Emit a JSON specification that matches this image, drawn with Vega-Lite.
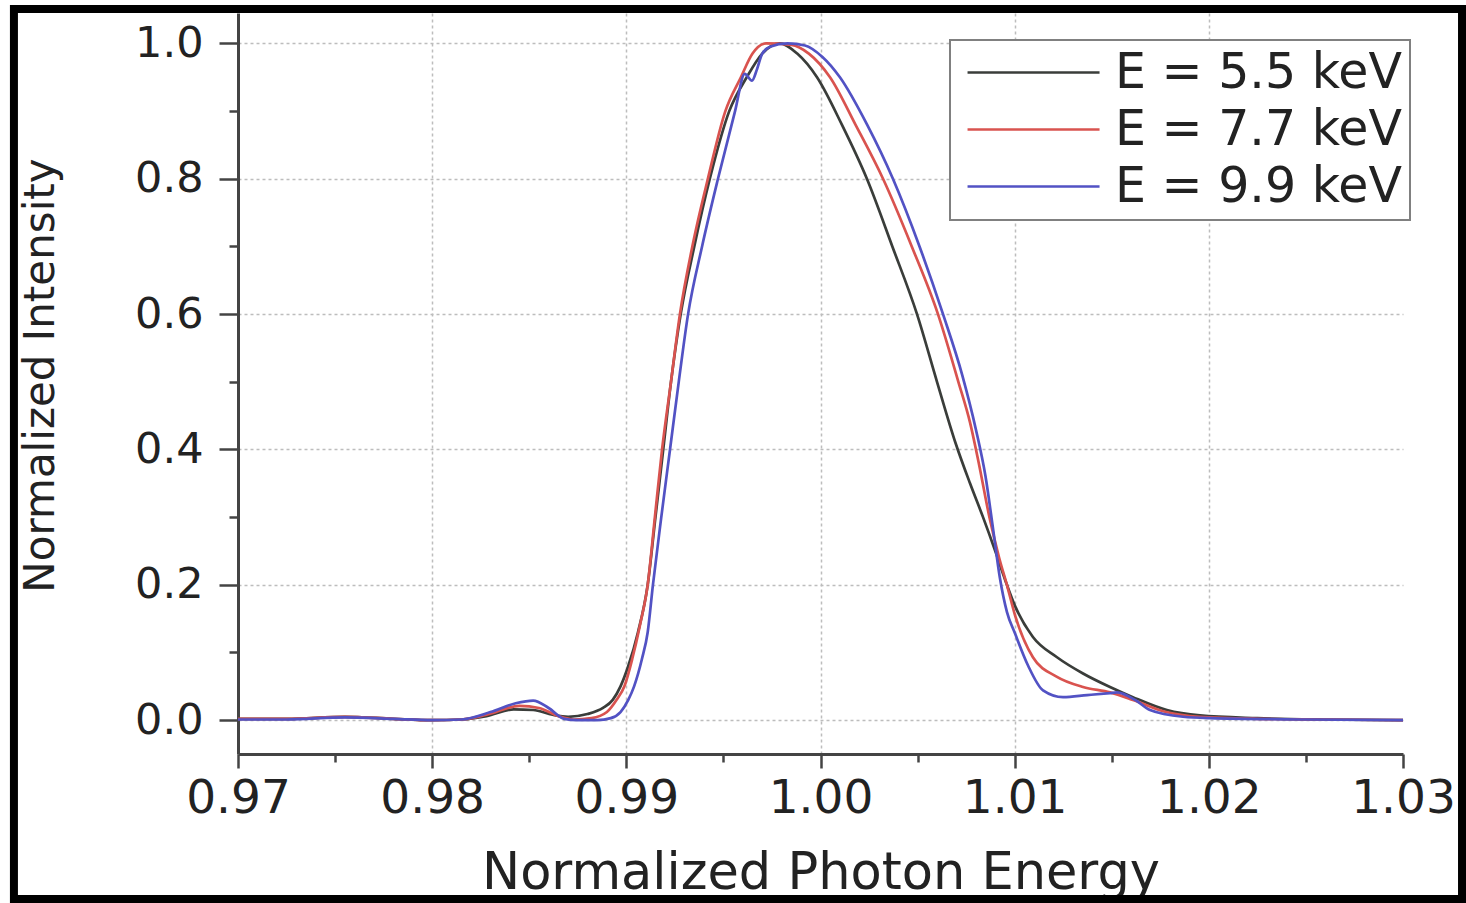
{
"$schema": "https://vega.github.io/schema/vega-lite/v6.json",
"width": 1165, "height": 741,
"autosize": {"type": "none"},
"padding": {"left": 238, "top": 13, "right": 63, "bottom": 149},
"background": "white",
"config": {"view": {"stroke": null}, "font": "DejaVu Sans", "legend": {"strokeWidth": 2}},
"datasets": {
"curves": [
{"s":"E = 5.5 keV","e":0.970,"i":0.002},{"s":"E = 5.5 keV","e":0.9725,"i":0.002},{"s":"E = 5.5 keV","e":0.9755,"i":0.005},{"s":"E = 5.5 keV","e":0.978,"i":0.002},{"s":"E = 5.5 keV","e":0.980,"i":0.0},{"s":"E = 5.5 keV","e":0.9815,"i":0.001},{"s":"E = 5.5 keV","e":0.9828,"i":0.006},{"s":"E = 5.5 keV","e":0.9842,"i":0.016},{"s":"E = 5.5 keV","e":0.9852,"i":0.015},{"s":"E = 5.5 keV","e":0.9862,"i":0.008},{"s":"E = 5.5 keV","e":0.9870,"i":0.005},{"s":"E = 5.5 keV","e":0.9880,"i":0.009},{"s":"E = 5.5 keV","e":0.9888,"i":0.018},{"s":"E = 5.5 keV","e":0.9893,"i":0.03},{"s":"E = 5.5 keV","e":0.9897,"i":0.05},{"s":"E = 5.5 keV","e":0.9901,"i":0.08},{"s":"E = 5.5 keV","e":0.9906,"i":0.13},{"s":"E = 5.5 keV","e":0.9911,"i":0.20},{"s":"E = 5.5 keV","e":0.9915,"i":0.30},{"s":"E = 5.5 keV","e":0.9919,"i":0.40},{"s":"E = 5.5 keV","e":0.9923,"i":0.50},{"s":"E = 5.5 keV","e":0.9928,"i":0.60},{"s":"E = 5.5 keV","e":0.9935,"i":0.70},{"s":"E = 5.5 keV","e":0.9943,"i":0.80},{"s":"E = 5.5 keV","e":0.9953,"i":0.90},{"s":"E = 5.5 keV","e":0.9962,"i":0.95},{"s":"E = 5.5 keV","e":0.9970,"i":0.985},{"s":"E = 5.5 keV","e":0.9979,"i":1.0},{"s":"E = 5.5 keV","e":0.9988,"i":0.985},{"s":"E = 5.5 keV","e":0.99982,"i":0.95},{"s":"E = 5.5 keV","e":1.0011,"i":0.88},{"s":"E = 5.5 keV","e":1.00239,"i":0.80},{"s":"E = 5.5 keV","e":1.0037,"i":0.70},{"s":"E = 5.5 keV","e":1.00497,"i":0.60},{"s":"E = 5.5 keV","e":1.0060,"i":0.50},{"s":"E = 5.5 keV","e":1.00695,"i":0.41},{"s":"E = 5.5 keV","e":1.0077,"i":0.35},{"s":"E = 5.5 keV","e":1.00837,"i":0.30},{"s":"E = 5.5 keV","e":1.0090,"i":0.25},{"s":"E = 5.5 keV","e":1.0096,"i":0.20},{"s":"E = 5.5 keV","e":1.0100,"i":0.17},{"s":"E = 5.5 keV","e":1.01094,"i":0.123},{"s":"E = 5.5 keV","e":1.01218,"i":0.093},{"s":"E = 5.5 keV","e":1.01352,"i":0.069},{"s":"E = 5.5 keV","e":1.01491,"i":0.049},{"s":"E = 5.5 keV","e":1.01609,"i":0.034},{"s":"E = 5.5 keV","e":1.01784,"i":0.015},{"s":"E = 5.5 keV","e":1.01954,"i":0.007},{"s":"E = 5.5 keV","e":1.0225,"i":0.003},{"s":"E = 5.5 keV","e":1.026,"i":0.001},{"s":"E = 5.5 keV","e":1.030,"i":0.0},
{"s":"E = 7.7 keV","e":0.970,"i":0.002},{"s":"E = 7.7 keV","e":0.9725,"i":0.002},{"s":"E = 7.7 keV","e":0.9755,"i":0.005},{"s":"E = 7.7 keV","e":0.978,"i":0.002},{"s":"E = 7.7 keV","e":0.980,"i":0.0},{"s":"E = 7.7 keV","e":0.9815,"i":0.001},{"s":"E = 7.7 keV","e":0.9828,"i":0.008},{"s":"E = 7.7 keV","e":0.9845,"i":0.021},{"s":"E = 7.7 keV","e":0.9855,"i":0.018},{"s":"E = 7.7 keV","e":0.9865,"i":0.006},{"s":"E = 7.7 keV","e":0.9873,"i":0.001},{"s":"E = 7.7 keV","e":0.9882,"i":0.003},{"s":"E = 7.7 keV","e":0.9890,"i":0.012},{"s":"E = 7.7 keV","e":0.9895,"i":0.03},{"s":"E = 7.7 keV","e":0.9899,"i":0.05},{"s":"E = 7.7 keV","e":0.9903,"i":0.09},{"s":"E = 7.7 keV","e":0.9907,"i":0.14},{"s":"E = 7.7 keV","e":0.9911,"i":0.20},{"s":"E = 7.7 keV","e":0.99147,"i":0.30},{"s":"E = 7.7 keV","e":0.99184,"i":0.40},{"s":"E = 7.7 keV","e":0.9923,"i":0.50},{"s":"E = 7.7 keV","e":0.99276,"i":0.60},{"s":"E = 7.7 keV","e":0.9934,"i":0.70},{"s":"E = 7.7 keV","e":0.9942,"i":0.80},{"s":"E = 7.7 keV","e":0.9951,"i":0.90},{"s":"E = 7.7 keV","e":0.9959,"i":0.95},{"s":"E = 7.7 keV","e":0.9965,"i":0.985},{"s":"E = 7.7 keV","e":0.9972,"i":1.0},{"s":"E = 7.7 keV","e":0.9985,"i":0.998},{"s":"E = 7.7 keV","e":0.9994,"i":0.985},{"s":"E = 7.7 keV","e":1.00049,"i":0.95},{"s":"E = 7.7 keV","e":1.0018,"i":0.88},{"s":"E = 7.7 keV","e":1.00322,"i":0.80},{"s":"E = 7.7 keV","e":1.0047,"i":0.70},{"s":"E = 7.7 keV","e":1.00605,"i":0.60},{"s":"E = 7.7 keV","e":1.0071,"i":0.50},{"s":"E = 7.7 keV","e":1.0077,"i":0.44},{"s":"E = 7.7 keV","e":1.00815,"i":0.38},{"s":"E = 7.7 keV","e":1.0087,"i":0.30},{"s":"E = 7.7 keV","e":1.0092,"i":0.24},{"s":"E = 7.7 keV","e":1.0096,"i":0.20},{"s":"E = 7.7 keV","e":1.01002,"i":0.155},{"s":"E = 7.7 keV","e":1.01094,"i":0.093},{"s":"E = 7.7 keV","e":1.01218,"i":0.064},{"s":"E = 7.7 keV","e":1.01352,"i":0.049},{"s":"E = 7.7 keV","e":1.01491,"i":0.041},{"s":"E = 7.7 keV","e":1.01609,"i":0.030},{"s":"E = 7.7 keV","e":1.0178,"i":0.012},{"s":"E = 7.7 keV","e":1.0195,"i":0.005},{"s":"E = 7.7 keV","e":1.0225,"i":0.002},{"s":"E = 7.7 keV","e":1.026,"i":0.001},{"s":"E = 7.7 keV","e":1.030,"i":0.0},
{"s":"E = 9.9 keV","e":0.970,"i":0.001},{"s":"E = 9.9 keV","e":0.9725,"i":0.001},{"s":"E = 9.9 keV","e":0.9755,"i":0.004},{"s":"E = 9.9 keV","e":0.978,"i":0.002},{"s":"E = 9.9 keV","e":0.980,"i":0.0},{"s":"E = 9.9 keV","e":0.9815,"i":0.001},{"s":"E = 9.9 keV","e":0.9830,"i":0.012},{"s":"E = 9.9 keV","e":0.9843,"i":0.025},{"s":"E = 9.9 keV","e":0.9852,"i":0.029},{"s":"E = 9.9 keV","e":0.9860,"i":0.018},{"s":"E = 9.9 keV","e":0.9868,"i":0.002},{"s":"E = 9.9 keV","e":0.9875,"i":0.0},{"s":"E = 9.9 keV","e":0.9885,"i":0.0},{"s":"E = 9.9 keV","e":0.9892,"i":0.003},{"s":"E = 9.9 keV","e":0.9897,"i":0.012},{"s":"E = 9.9 keV","e":0.9901,"i":0.03},{"s":"E = 9.9 keV","e":0.9904,"i":0.05},{"s":"E = 9.9 keV","e":0.9908,"i":0.09},{"s":"E = 9.9 keV","e":0.9911,"i":0.13},{"s":"E = 9.9 keV","e":0.99137,"i":0.20},{"s":"E = 9.9 keV","e":0.9918,"i":0.30},{"s":"E = 9.9 keV","e":0.99225,"i":0.40},{"s":"E = 9.9 keV","e":0.9927,"i":0.50},{"s":"E = 9.9 keV","e":0.99318,"i":0.60},{"s":"E = 9.9 keV","e":0.9939,"i":0.70},{"s":"E = 9.9 keV","e":0.99472,"i":0.80},{"s":"E = 9.9 keV","e":0.9956,"i":0.90},{"s":"E = 9.9 keV","e":0.9961,"i":0.955},{"s":"E = 9.9 keV","e":0.99647,"i":0.945},{"s":"E = 9.9 keV","e":0.99673,"i":0.962},{"s":"E = 9.9 keV","e":0.9970,"i":0.985},{"s":"E = 9.9 keV","e":0.9974,"i":0.995},{"s":"E = 9.9 keV","e":0.9983,"i":1.0},{"s":"E = 9.9 keV","e":0.9992,"i":0.997},{"s":"E = 9.9 keV","e":1.0001,"i":0.98},{"s":"E = 9.9 keV","e":1.0010,"i":0.95},{"s":"E = 9.9 keV","e":1.0024,"i":0.88},{"s":"E = 9.9 keV","e":1.00373,"i":0.80},{"s":"E = 9.9 keV","e":1.0051,"i":0.70},{"s":"E = 9.9 keV","e":1.00631,"i":0.60},{"s":"E = 9.9 keV","e":1.0073,"i":0.51},{"s":"E = 9.9 keV","e":1.0080,"i":0.43},{"s":"E = 9.9 keV","e":1.0085,"i":0.36},{"s":"E = 9.9 keV","e":1.0089,"i":0.28},{"s":"E = 9.9 keV","e":1.00924,"i":0.21},{"s":"E = 9.9 keV","e":1.0096,"i":0.16},{"s":"E = 9.9 keV","e":1.01002,"i":0.128},{"s":"E = 9.9 keV","e":1.0107,"i":0.08},{"s":"E = 9.9 keV","e":1.01146,"i":0.044},{"s":"E = 9.9 keV","e":1.01249,"i":0.034},{"s":"E = 9.9 keV","e":1.01373,"i":0.037},{"s":"E = 9.9 keV","e":1.01491,"i":0.040},{"s":"E = 9.9 keV","e":1.01527,"i":0.041},{"s":"E = 9.9 keV","e":1.0162,"i":0.030},{"s":"E = 9.9 keV","e":1.01697,"i":0.015},{"s":"E = 9.9 keV","e":1.01867,"i":0.005},{"s":"E = 9.9 keV","e":1.02006,"i":0.003},{"s":"E = 9.9 keV","e":1.025,"i":0.001},{"s":"E = 9.9 keV","e":1.030,"i":0.0}
]
},
"layer": [
{
"data": {"name": "curves"},
"mark": {"type": "line", "strokeWidth": 2.7, "interpolate": "monotone", "clip": true},
"encoding": {
"x": {"field": "e", "type": "quantitative",
 "scale": {"domain": [0.97, 1.03], "nice": false, "zero": false},
 "axis": {
  "values": [0.97,0.975,0.98,0.985,0.99,0.995,1.0,1.005,1.01,1.015,1.02,1.025,1.03],
  "labelExpr": "round(datum.value*200)%2==0 ? format(datum.value,'.2f') : ''",
  "title": "Normalized Photon Energy",
  "titleFontSize": 51, "titleFontWeight": "normal", "titleColor": "#222", "titlePadding": 27,
  "labelFontSize": 47, "labelColor": "#222", "labelPadding": 7, "labelFlush": false, "labelOverlap": false, "labelBound": false,
  "tickSize": {"condition": {"test": "round(datum.value*200)%2==0", "value": 14}, "value": 8},
  "tickWidth": 2.5, "tickColor": "#444",
  "domainColor": "#444", "domainWidth": 3,
  "grid": true, "gridColor": "#bdbdbd", "gridDash": [3, 3], "gridWidth": 1.5,
  "gridOpacity": {"condition": {"test": "round(datum.value*200)%2==0 && datum.value > 0.975 && datum.value < 1.025", "value": 1}, "value": 0}
 }},
"y": {"field": "i", "type": "quantitative",
 "scale": {"domain": [-0.05, 1.045], "nice": false, "zero": false},
 "axis": {
  "values": [0,0.1,0.2,0.3,0.4,0.5,0.6,0.7,0.8,0.9,1.0],
  "labelExpr": "round(datum.value*10)%2==0 ? format(datum.value,'.1f') : ''",
  "title": "Normalized Intensity",
  "titleFontSize": 42, "titleFontWeight": "normal", "titleColor": "#222", "titlePadding": 72, "titleY": 362,
  "labelFontSize": 43, "labelColor": "#222", "labelPadding": 16, "labelFlush": false, "labelOverlap": false, "labelBound": false,
  "tickSize": {"condition": {"test": "round(datum.value*10)%2==0", "value": 19}, "value": 9},
  "tickWidth": 2.5, "tickColor": "#444",
  "domainColor": "#444", "domainWidth": 3,
  "grid": true, "gridColor": "#bdbdbd", "gridDash": [3, 3], "gridWidth": 1.5,
  "gridOpacity": {"condition": {"test": "round(datum.value*10)%2==0", "value": 1}, "value": 0}
 }},
"color": {"field": "s", "type": "nominal",
 "scale": {"domain": ["E = 5.5 keV", "E = 7.7 keV", "E = 9.9 keV"], "range": ["#3a3d3a", "#d9534f", "#5252c4"]},
 "legend": {"orient": "none", "legendX": 712, "legendY": 27, "title": null,
  "symbolType": "M-0.68,0H5.32", "symbolSize": 1936, "symbolStrokeWidth": 2.5,
  "labelFontSize": 49, "labelColor": "#222", "labelOffset": 108, "labelLimit": 500, "padding": 8, "rowPadding": 7,
  "strokeColor": "#808080", "fillColor": "white", "cornerRadius": 0}}
}
},
{
"data": {"values": [{}]},
"mark": {"type": "rect", "fillOpacity": 0, "stroke": "black", "strokeWidth": 8, "clip": false},
"encoding": {
 "x": {"datum": 0.95846, "type": "quantitative"},
 "x2": {"datum": 1.03304},
 "y": {"datum": 1.0509, "type": "quantitative"},
 "y2": {"datum": -0.2643}
}
}
]
}
